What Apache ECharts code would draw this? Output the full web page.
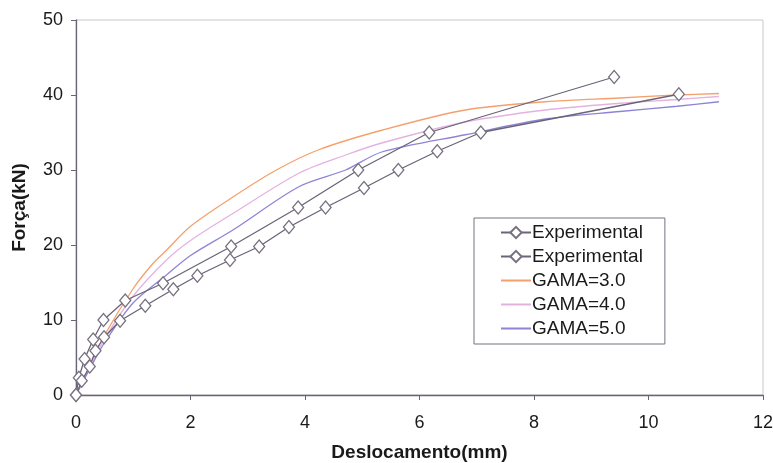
<!DOCTYPE html>
<html>
<head>
<meta charset="utf-8">
<script src="https://cdn.jsdelivr.net/npm/echarts@6/dist/echarts.min.js"></script>
<style>
  html, body { margin: 0; padding: 0; background: #fff; }
  #chart1 { width: 773px; height: 463px; }
</style>
</head>
<body>
<div id="chart1"></div>
<script>
// dados: [deslocamento (mm), força (kN)]
var exp1 = [[0, 0], [0.05, 2.3], [0.15, 4.8], [0.3, 7.4], [0.48, 10], [0.86, 12.6], [1.52, 14.9],
    [2.71, 19.8], [3.88, 25], [4.93, 30], [6.17, 35], [9.4, 42.4]];
var exp2 = [[0, 0], [0.1, 1.9], [0.24, 3.8], [0.34, 5.9], [0.49, 7.7], [0.77, 9.9], [1.21, 11.9],
    [1.7, 14.1], [2.12, 15.9], [2.69, 18], [3.2, 19.8], [3.72, 22.4], [4.36, 25], [5.03, 27.6],
    [5.63, 30], [6.31, 32.5], [7.07, 35], [10.53, 40.1]];
var gama3 = [[0, 0], [0.25, 4], [0.5, 8], [1.0, 14.2], [1.34, 17.5], [1.58, 19.3], [2.0, 22.5],
    [2.74, 26.4], [3.5, 30], [4.24, 32.7], [5.34, 35.3], [6.8, 38], [8.2, 39.1], [9.5, 39.6],
    [10.5, 40], [11.23, 40.2]];
var gama4 = [[0, 0], [0.25, 3.8], [0.5, 7.5], [1.0, 13.2], [1.58, 18], [2.0, 20.6], [2.74, 24.2],
    [3.9, 29.6], [4.71, 32], [5.34, 33.6], [6.8, 36.4], [8.2, 38], [9.5, 38.9], [10.5, 39.4],
    [11.23, 39.8]];
var gama5 = [[0, 0], [0.25, 3.6], [0.5, 7], [1.0, 12.3], [1.58, 16], [2.0, 18.6], [2.74, 22],
    [3.9, 27.8], [4.71, 30], [5.34, 32.4], [6.8, 34.7], [8.2, 36.8], [9.5, 37.8], [10.5, 38.5],
    [11.23, 39.1]];

var xTicks = [0, 2, 4, 6, 8, 10, 12];
var yTicks = [0, 10, 20, 30, 40, 50];
var names = ['Experimental', 'Experimental\u200b', 'GAMA=3.0', 'GAMA=4.0', 'GAMA=5.0'];

// icone de legenda so com linha (caixa 30x14)
var lineIcon = 'path://M0,0 L0.01,0 L0.01,0.01 Z M0,6 L30,6 L30,8 L0,8 Z M29.99,13.99 L30,14 L29.99,14 Z';

var chart = echarts.init(document.getElementById('chart1'));

function expSerie(name, data) {
    return {
        type: 'line',
        name: name,
        data: data,
        symbol: 'diamond',
        symbolSize: [11, 13],
        showSymbol: true,
        lineStyle: { color: '#6b6478', width: 1.3 },
        itemStyle: { color: '#ffffff', borderColor: '#77717f', borderWidth: 1.3 },
        z: 5
    };
}

function gamaSerie(name, data, color) {
    return {
        type: 'line',
        name: name,
        data: data,
        symbol: 'none',
        smooth: 0.3,
        lineStyle: { color: color, width: 1.3 },
        itemStyle: { color: color },
        z: 3
    };
}

var option = {
    animation: false,
    textStyle: { fontFamily: 'Liberation Sans, Arial, sans-serif' },
    grid: {
        left: 76, right: 10, top: 20, bottom: 68,
        outerBoundsMode: 'none',
        show: true, borderColor: '#c8c6cc', borderWidth: 1
    },
    legend: {
        data: [
            { name: names[0] },
            { name: names[1] },
            { name: names[2], icon: lineIcon },
            { name: names[3], icon: lineIcon },
            { name: names[4], icon: lineIcon }
        ],
        orient: 'vertical',
        left: 474,
        top: 218,
        padding: [5, 22, 6, 26],
        itemGap: 5,
        itemWidth: 30,
        itemHeight: 14,
        borderColor: '#77717f',
        borderWidth: 1,
        backgroundColor: '#fff',
        formatter: function (n) { return n.replace('\u200b', ''); },
        textStyle: { fontSize: 19, color: '#1a1a1a', padding: [0, 0, 0, -4] }
    },
    xAxis: {
        type: 'value',
        min: 0, max: 12, interval: 2,
        name: 'Deslocamento(mm)',
        nameLocation: 'middle',
        nameGap: 48,
        nameTextStyle: { fontSize: 19, fontWeight: 'bold', color: '#1a1a1a' },
        axisLine: { show: true, lineStyle: { color: '#6b6478', width: 1.3 } },
        axisTick: { show: true, length: 5, lineStyle: { color: '#6b6478' } },
        axisLabel: { fontSize: 18, color: '#1a1a1a', margin: 19 },
        splitLine: { show: false }
    },
    yAxis: {
        type: 'value',
        min: 0, max: 50, interval: 10,
        name: 'Força(kN)',
        nameLocation: 'middle',
        nameGap: 47,
        nameTextStyle: { fontSize: 19, fontWeight: 'bold', color: '#1a1a1a' },
        axisLine: { show: true, lineStyle: { color: '#6b6478', width: 1.3 } },
        axisTick: { show: true, length: 5, lineStyle: { color: '#6b6478' } },
        axisLabel: { fontSize: 18, color: '#1a1a1a', margin: 13 },
        splitLine: { show: false }
    },
    series: [
        expSerie(names[0], exp1),
        expSerie(names[1], exp2),
        gamaSerie(names[2], gama3, '#f5a06c'),
        gamaSerie(names[3], gama4, '#e4b2e0'),
        gamaSerie(names[4], gama5, '#8e84d6')
    ]
};

chart.setOption(option, true);
</script>
</body>
</html>
